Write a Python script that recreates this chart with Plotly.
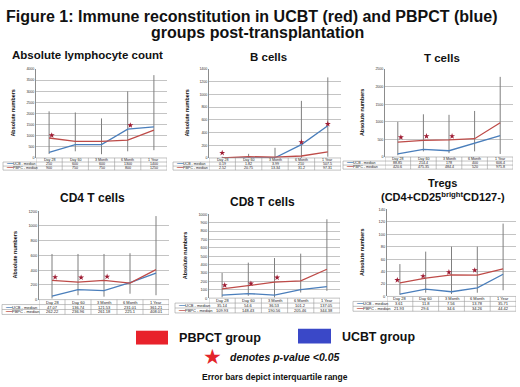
import plotly.graph_objects as go

W, H = 520, 387

categories = ["Day 28", "Day 60", "3 Month", "6 Month", "1 Year"]
series_labels = ["UCB - median", "PBPC - median"]

# Absolute lymphocyte count
alc_ucb = [250, 600, 600, 1300, 1400]
alc_pbpc = [900, 750, 750, 800, 1250]
alc_iqr_lo = [180, 300, 170, 300, 350]
alc_iqr_hi = [2100, 2050, 1780, 3000, 3730]
alc_star_cat = [0, 3]
alc_star_y = [1020, 1470]

# B cells
b_ucb = [0.19, 1.82, 3.99, 210, 507.5]
b_pbpc = [2.52, 20.75, 13.34, 31.2, 97.31]
b_iqr_lo = [0, 0, 0, 0, 20]
b_iqr_hi = [20, 65, 160, 900, 1270]
b_star_cat = [0, 3, 4]
b_star_y = [80, 250, 535]

# T cells
t_ucb = [88.85, 214.4, 178, 400, 606.4]
t_pbpc = [420.6, 475.35, 484.4, 520, 975.8]
t_iqr_lo = [50, 160, 110, 160, 85]
t_iqr_hi = [1000, 1215, 1200, 1310, 2280]
t_star_cat = [0, 1, 2]
t_star_y = [560, 590, 590]

# CD4 T cells
cd4_ucb = [47.07, 136.74, 121.53, 231.01, 361.21]
cd4_pbpc = [262.22, 236.96, 261.18, 225.1, 408.01]
cd4_iqr_lo = [15, 60, 40, 80, 60]
cd4_iqr_hi = [620, 620, 620, 630, 1135]
cd4_star_cat = [0, 1, 2]
cd4_star_y = [305, 300, 312]

# CD8 T cells
cd8_ucb = [35.14, 54.6, 36.53, 101.2, 137.05]
cd8_pbpc = [109.93, 148.43, 190.56, 205.46, 344.38]
cd8_iqr_lo = [10, 28, 8, 67, 87]
cd8_iqr_hi = [300, 423, 478, 530, 940]
cd8_star_cat = [0, 1, 2]
cd8_star_y = [154, 174, 245]

# Tregs
treg_ucb = [3.61, 11.8, 7.56, 13.78, 35.71]
treg_pbpc = [21.93, 29.6, 34.6, 34.26, 44.42]
treg_iqr_lo = [2.6, 6, 4, 6, 10]
treg_iqr_hi = [52, 72, 80, 80, 117]
treg_star_cat = [0, 1, 2, 3]
treg_star_y = [26.3, 32.6, 39, 42]

panel_titles = ["Absolute lymphocyte count", "B cells", "T cells",
                "CD4 T cells", "CD8 T cells",
                "Tregs<br>(CD4+CD25<sup>bright</sup>CD127-)"]
y_max = [4000, 1400, 2500, 1200, 1000, 140]
y_dtick = [500, 200, 500, 200, 100, 20]

data = [
    (alc_ucb, alc_pbpc, alc_iqr_lo, alc_iqr_hi, alc_star_cat, alc_star_y),
    (b_ucb, b_pbpc, b_iqr_lo, b_iqr_hi, b_star_cat, b_star_y),
    (t_ucb, t_pbpc, t_iqr_lo, t_iqr_hi, t_star_cat, t_star_y),
    (cd4_ucb, cd4_pbpc, cd4_iqr_lo, cd4_iqr_hi, cd4_star_cat, cd4_star_y),
    (cd8_ucb, cd8_pbpc, cd8_iqr_lo, cd8_iqr_hi, cd8_star_cat, cd8_star_y),
    (treg_ucb, treg_pbpc, treg_iqr_lo, treg_iqr_hi, treg_star_cat, treg_star_y),
]

# layout (pixels): plot x0, x1, y_top, y_bottom, table left, row height,
# title x, title y, title size, ytitle x, star offset, table font size
layout_px = [
    dict(x0=36, x1=167, yt=67, yb=157, tl=3, rh=4.1, tx=87, ty=53, ts=11.5, ax=13, so=0.1, fs=3.6),
    dict(x0=209, x1=341, yt=67, yb=157, tl=173, rh=4.1, tx=268, ty=55, ts=11.5, ax=187, so=0.0, fs=3.6),
    dict(x0=385, x1=513, yt=67, yb=156, tl=343, rh=4.1, tx=442, ty=56, ts=11.5, ax=362, so=0.12, fs=3.6),
    dict(x0=39, x1=169, yt=211, yb=300.5, tl=2, rh=5, tx=92, ty=198, ts=12, ax=15, so=0.12, fs=4),
    dict(x0=209, x1=340, yt=214, yb=299, tl=175, rh=5, tx=262, ty=202, ts=12, ax=185, so=0.1, fs=4),
    dict(x0=387, x1=516, yt=209, yb=297.3, tl=353, rh=5, tx=443, ty=189, ts=11, ax=362, so=-0.1, fs=4),
]

BLUE = "#4a7ebb"
RED = "#be4b48"
GRID = "#c4c4c4"
TBL = "#9a9a9a"
FONT = "Liberation Sans, Arial, sans-serif"


def px_x(x):
    return x / W


def px_y(y):
    return 1 - y / H


fig = go.Figure()
annotations = []
shapes = []

for k, (ucb, pbpc, lo, hi, scat, sy) in enumerate(data):
    L = layout_px[k]
    n = k + 1
    xa = "x" if n == 1 else f"x{n}"
    ya = "y" if n == 1 else f"y{n}"
    xkey = "xaxis" if n == 1 else f"xaxis{n}"
    ykey = "yaxis" if n == 1 else f"yaxis{n}"
    idx = list(range(len(categories)))

    # error bars (IQR) as vertical segments
    ex, ey = [], []
    for i in idx:
        ex += [i, i, None]
        ey += [lo[i], hi[i], None]
    fig.add_trace(go.Scatter(x=ex, y=ey, mode="lines", xaxis=xa, yaxis=ya,
                             line=dict(color="#7f7f7f", width=1), hoverinfo="skip",
                             showlegend=False))
    fig.add_trace(go.Scatter(x=idx, y=ucb, mode="lines", xaxis=xa, yaxis=ya,
                             line=dict(color=BLUE, width=1.3), showlegend=False))
    fig.add_trace(go.Scatter(x=idx, y=pbpc, mode="lines", xaxis=xa, yaxis=ya,
                             line=dict(color=RED, width=1.3), showlegend=False))
    fig.add_trace(go.Scatter(x=[c + L["so"] for c in scat], y=sy, mode="markers",
                             xaxis=xa, yaxis=ya,
                             marker=dict(symbol="star", size=4.5, color="#9e1b32",
                                         line=dict(width=0)),
                             showlegend=False))

    fig.update_layout({
        xkey: dict(domain=[px_x(L["x0"]), px_x(L["x1"])], range=[-0.5, 4.5],
                   showgrid=False, zeroline=False, showticklabels=False,
                   showline=False, fixedrange=True, anchor=ya),
        ykey: dict(domain=[px_y(L["yb"]), px_y(L["yt"])], range=[0, y_max[k]],
                   dtick=y_dtick[k], showgrid=True, gridcolor=GRID, gridwidth=0.6,
                   zeroline=False, showline=True, linecolor="#8c8c8c", linewidth=0.8,
                   tickfont=dict(size=L["fs"], color="#333", family=FONT),
                   ticks="", anchor=xa, fixedrange=True),
    })

    # panel title
    annotations.append(dict(text=f"<b>{panel_titles[k]}</b>", x=px_x(L["tx"]), y=px_y(L["ty"]),
                            xref="paper", yref="paper", showarrow=False,
                            font=dict(size=L["ts"], color="#111", family=FONT),
                            xanchor="center", yanchor="middle"))
    # y axis title
    annotations.append(dict(text="<b>Absolute numbers</b>", x=px_x(L["ax"]),
                            y=px_y((L["yt"] + L["yb"]) / 2), xref="paper", yref="paper",
                            showarrow=False, textangle=-90,
                            font=dict(size=5.4, color="#111", family=FONT),
                            xanchor="center", yanchor="middle"))

    # table
    rh = L["rh"]
    r0 = L["yb"]
    rows_y = [r0, r0 + rh, r0 + 2 * rh, r0 + 3 * rh]
    for j, yy in enumerate(rows_y):
        x_start = L["x0"] if j == 0 else L["tl"]
        shapes.append(dict(type="line", xref="paper", yref="paper",
                           x0=px_x(x_start), x1=px_x(L["x1"]),
                           y0=px_y(yy), y1=px_y(yy),
                           line=dict(color=TBL, width=0.6)))
    for b in range(len(categories) + 1):
        shapes.append(dict(type="line", xref=xa, yref="paper", x0=b - 0.5, x1=b - 0.5,
                           y0=px_y(rows_y[0]), y1=px_y(rows_y[3]),
                           line=dict(color=TBL, width=0.6)))
    shapes.append(dict(type="line", xref="paper", yref="paper",
                       x0=px_x(L["tl"]), x1=px_x(L["tl"]),
                       y0=px_y(rows_y[1]), y1=px_y(rows_y[3]),
                       line=dict(color=TBL, width=0.6)))
    fsz = L["fs"]
    for i, c in enumerate(categories):
        annotations.append(dict(text=c, x=i, y=px_y(r0 + rh / 2), xref=xa, yref="paper",
                                showarrow=False, font=dict(size=fsz, color="#222", family=FONT),
                                xanchor="center", yanchor="middle"))
        annotations.append(dict(text=f"{ucb[i]:g}", x=i, y=px_y(r0 + 1.5 * rh), xref=xa,
                                yref="paper", showarrow=False,
                                font=dict(size=fsz, color="#222", family=FONT),
                                xanchor="center", yanchor="middle"))
        annotations.append(dict(text=f"{pbpc[i]:g}", x=i, y=px_y(r0 + 2.5 * rh), xref=xa,
                                yref="paper", showarrow=False,
                                font=dict(size=fsz, color="#222", family=FONT),
                                xanchor="center", yanchor="middle"))
    for j, (lab, col) in enumerate(zip(series_labels, [BLUE, RED])):
        annotations.append(dict(
            text=f'<span style="color:{col}">━━━</span>{lab}',
            x=px_x(L["tl"] + 0.5), y=px_y(r0 + (1.5 + j) * rh), xref="paper", yref="paper",
            showarrow=False, font=dict(size=fsz, color="#222", family=FONT),
            xanchor="left", yanchor="middle"))

# main title (two lines)
annotations.append(dict(text="<b>Figure 1: Immune reconstitution in UCBT (red) and PBPCT (blue)</b>",
                        x=px_x(252), y=px_y(13.5), xref="paper", yref="paper", showarrow=False,
                        font=dict(size=16, color="#111", family=FONT),
                        xanchor="center", yanchor="middle"))
annotations.append(dict(text="<b>groups post-transplantation</b>",
                        x=px_x(257), y=px_y(30), xref="paper", yref="paper", showarrow=False,
                        font=dict(size=16, color="#111", family=FONT),
                        xanchor="center", yanchor="middle"))

# legend
shapes.append(dict(type="rect", xref="paper", yref="paper", x0=px_x(136), x1=px_x(168),
                   y0=px_y(346), y1=px_y(332), fillcolor="#e8222b", line=dict(width=0)))
shapes.append(dict(type="rect", xref="paper", yref="paper", x0=px_x(298), x1=px_x(331),
                   y0=px_y(345), y1=px_y(330), fillcolor="#3a48c8", line=dict(width=0)))
annotations.append(dict(text="<b>PBPCT group</b>", x=px_x(177), y=px_y(339.5), xref="paper",
                        yref="paper", showarrow=False, xanchor="left", yanchor="middle",
                        font=dict(size=12.6, color="#111", family=FONT)))
annotations.append(dict(text="<b>UCBT group</b>", x=px_x(340), y=px_y(338), xref="paper",
                        yref="paper", showarrow=False, xanchor="left", yanchor="middle",
                        font=dict(size=12.4, color="#111", family=FONT)))
annotations.append(dict(text="★", x=px_x(212), y=px_y(358.5), xref="paper", yref="paper",
                        showarrow=False, xanchor="center", yanchor="middle",
                        font=dict(size=21, color="#e3242b", family="DejaVu Sans")))
annotations.append(dict(text="<b><i>denotes p-value &lt;0.05</i></b>", x=px_x(228), y=px_y(359),
                        xref="paper", yref="paper", showarrow=False, xanchor="left",
                        yanchor="middle", font=dict(size=10.5, color="#111", family=FONT)))
annotations.append(dict(text="<b>Error bars depict interquartile range</b>", x=px_x(200),
                        y=px_y(379), xref="paper", yref="paper", showarrow=False,
                        xanchor="left", yanchor="middle",
                        font=dict(size=8.5, color="#111", family=FONT)))

fig.update_layout(width=W, height=H, autosize=False,
                  margin=dict(l=0, r=0, t=0, b=0, pad=0),
                  paper_bgcolor="white", plot_bgcolor="white",
                  showlegend=False, annotations=annotations, shapes=shapes,
                  font=dict(family=FONT))

fig.write_html("out.html", config={"displayModeBar": False},
               post_script="document.body.style.margin='0';document.body.style.padding='0';")
